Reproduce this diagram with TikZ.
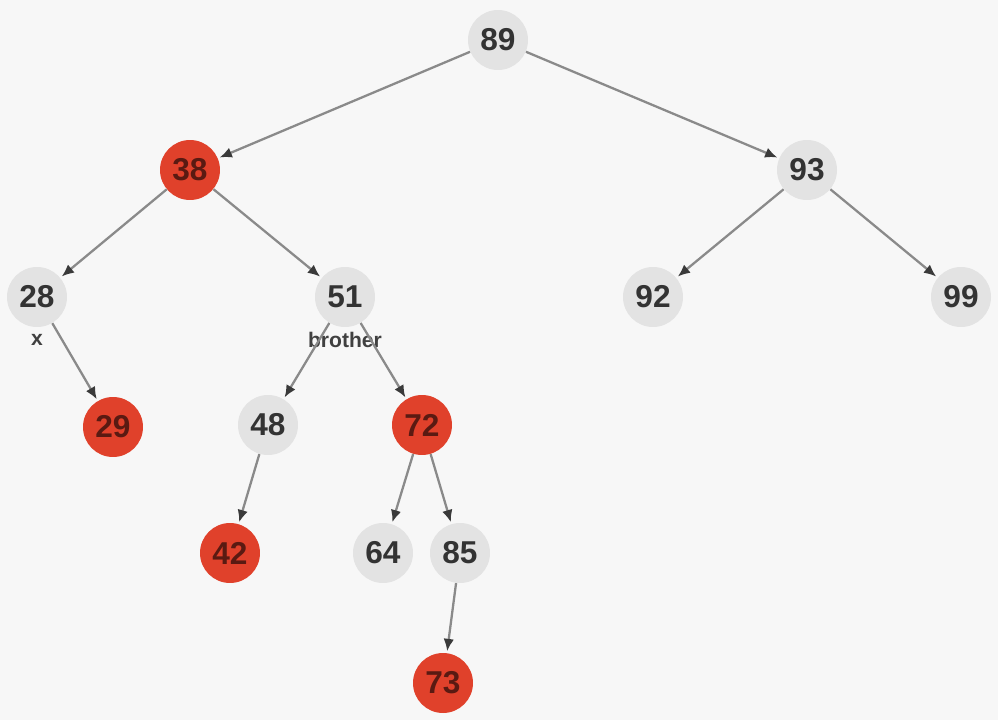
\documentclass[tikz,border=0pt]{standalone}
\usepackage{fontspec}
\setmainfont{Liberation Sans}
\usetikzlibrary{arrows.meta}

\definecolor{bgcol}{HTML}{F7F7F7}
\definecolor{greynode}{HTML}{E3E3E3}
\definecolor{rednode}{HTML}{E0412B}
\definecolor{redtext}{HTML}{5A1A12}
\definecolor{edgecol}{HTML}{8A8A8A}
\definecolor{tipcol}{HTML}{3A3A3A}

\begin{document}
\begin{tikzpicture}[
    x=0.02cm, y=-0.02cm,
    black/.style={circle, fill=greynode, minimum size=1.2cm, inner sep=0pt, font=\fontsize{18}{20}\selectfont\bfseries, text=black!80},
    red/.style={circle, fill=rednode, minimum size=1.2cm, inner sep=0pt, font=\fontsize{18}{20}\selectfont\bfseries, text=redtext},
    tag/.style={font=\fontsize{12}{14}\selectfont\bfseries, text=black!75},
    arrow/.style={-{Latex[length=7pt, width=6pt, color=tipcol]}, line width=1.3pt, draw=edgecol, shorten >=1pt},
]
\fill[bgcol] (0,0) rectangle (998,720);
\useasboundingbox (0,0) rectangle (998,720);

% ===== LEVEL 0 =====
\node[black] (n89) at (498,40) {89};

% ===== LEVEL 1 =====
\node[red] (n38) at (190,170) {38};
\node[black] (n93) at (807,170) {93};

% ===== LEVEL 2 =====
\node[black] (n28) at (37,297) {28};
\node[black] (n51) at (345,297) {51};
\node[black] (n92) at (653,297) {92};
\node[black] (n99) at (961,297) {99};

\node[tag] (xlabel) at (37,340) {x};
\node[tag] (brolabel) at (345,340) {brother};

% ===== LEVEL 3 =====
\node[red] (n29) at (113,427) {29};
\node[black] (n48) at (268,425) {48};
\node[red] (n72) at (422,425) {72};

% ===== LEVEL 4 =====
\node[red] (n42) at (230,553) {42};
\node[black] (n64) at (383,553) {64};
\node[black] (n85) at (460,553) {85};

% ===== LEVEL 5 =====
\node[red] (n73) at (443,683) {73};

% ===== EDGES =====
\draw[arrow] (n89) -- (n38);
\draw[arrow] (n89) -- (n93);
\draw[arrow] (n38) -- (n28);
\draw[arrow] (n38) -- (n51);
\draw[arrow] (n93) -- (n92);
\draw[arrow] (n93) -- (n99);
\draw[arrow] (n28) -- (n29);
\draw[arrow] (n51) -- (n48);
\draw[arrow] (n51) -- (n72);
\draw[arrow] (n48) -- (n42);
\draw[arrow] (n72) -- (n64);
\draw[arrow] (n72) -- (n85);
\draw[arrow] (n85) -- (n73);

\end{tikzpicture}
\end{document}
